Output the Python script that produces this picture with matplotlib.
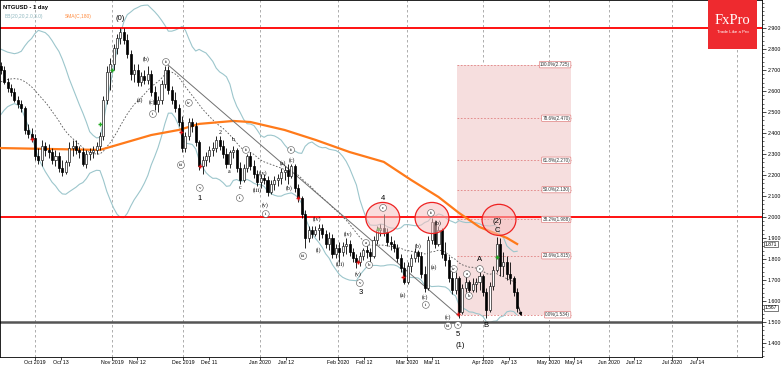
import matplotlib
matplotlib.use("Agg")
import matplotlib.pyplot as plt
from matplotlib.patches import Ellipse, Rectangle
import numpy as np
import pandas as pd

# daily candles NTGUSD, bar index 0 = 17 Sep 2019
opens = [2.719, 2.700, 2.643, 2.614, 2.595, 2.557, 2.538, 2.519, 2.414, 2.395,
         2.376, 2.290, 2.271, 2.338, 2.319, 2.309, 2.271, 2.290, 2.233, 2.214,
         2.262, 2.328, 2.338, 2.319, 2.309, 2.252, 2.300, 2.309, 2.319, 2.338,
         2.385, 2.557, 2.690, 2.728, 2.805, 2.852, 2.881, 2.843, 2.776, 2.681,
         2.700, 2.643, 2.671, 2.652, 2.681, 2.595, 2.538, 2.557, 2.633, 2.700,
         2.605, 2.557, 2.519, 2.452, 2.328, 2.385, 2.452, 2.433, 2.357, 2.243,
         2.271, 2.290, 2.319, 2.328, 2.367, 2.338, 2.300, 2.252, 2.309, 2.319,
         2.233, 2.176, 2.233, 2.290, 2.243, 2.205, 2.167, 2.186, 2.176, 2.119,
         2.157, 2.176, 2.186, 2.214, 2.224, 2.195, 2.243, 2.138, 2.090, 2.014,
         1.900, 1.938, 1.919, 1.938, 1.948, 1.919, 1.871, 1.900, 1.824, 1.852,
         1.833, 1.862, 1.871, 1.833, 1.805, 1.786, 1.814, 1.843, 1.833, 1.814,
         1.890, 1.938, 1.948, 1.928, 1.881, 1.871, 1.852, 1.805, 1.757, 1.690,
         1.767, 1.805, 1.833, 1.814, 1.728, 1.662, 1.890, 1.976, 1.871, 1.938,
         1.824, 1.795, 1.709, 1.652, 1.709, 1.547, 1.662, 1.690, 1.652, 1.681,
         1.690, 1.719, 1.643, 1.557, 1.671, 1.748, 1.871, 1.767, 1.786, 1.728,
         1.709, 1.643]
highs = [2.738, 2.719, 2.662, 2.633, 2.614, 2.576, 2.557, 2.528, 2.443, 2.424,
         2.395, 2.328, 2.367, 2.357, 2.347, 2.328, 2.319, 2.309, 2.271, 2.271,
         2.357, 2.367, 2.367, 2.338, 2.328, 2.319, 2.328, 2.338, 2.357, 2.405,
         2.576, 2.719, 2.757, 2.824, 2.871, 2.900, 2.900, 2.871, 2.795, 2.728,
         2.728, 2.690, 2.700, 2.719, 2.700, 2.624, 2.576, 2.652, 2.719, 2.719,
         2.624, 2.595, 2.538, 2.481, 2.405, 2.471, 2.471, 2.452, 2.367, 2.290,
         2.309, 2.338, 2.357, 2.385, 2.385, 2.367, 2.328, 2.319, 2.338, 2.328,
         2.262, 2.252, 2.300, 2.309, 2.271, 2.224, 2.205, 2.205, 2.195, 2.176,
         2.195, 2.205, 2.233, 2.243, 2.252, 2.252, 2.252, 2.157, 2.100, 2.033,
         1.957, 1.957, 1.957, 1.967, 1.967, 1.938, 1.928, 1.919, 1.871, 1.881,
         1.881, 1.900, 1.890, 1.852, 1.824, 1.833, 1.852, 1.866, 1.852, 1.909,
         1.957, 1.967, 2.014, 1.948, 1.909, 1.890, 1.871, 1.824, 1.786, 1.786,
         1.824, 1.852, 1.843, 1.833, 1.767, 1.909, 1.995, 1.986, 1.957, 1.948,
         1.881, 1.814, 1.748, 1.738, 1.719, 1.681, 1.719, 1.700, 1.709, 1.709,
         1.738, 1.728, 1.662, 1.690, 1.767, 1.905, 1.900, 1.833, 1.814, 1.786,
         1.719, 1.662]
lows = [2.681, 2.633, 2.595, 2.576, 2.548, 2.519, 2.500, 2.395, 2.376, 2.357,
        2.271, 2.252, 2.243, 2.290, 2.281, 2.252, 2.243, 2.214, 2.195, 2.205,
        2.243, 2.290, 2.300, 2.281, 2.243, 2.233, 2.271, 2.281, 2.300, 2.319,
        2.367, 2.538, 2.605, 2.700, 2.776, 2.824, 2.824, 2.757, 2.652, 2.643,
        2.624, 2.624, 2.633, 2.633, 2.576, 2.509, 2.500, 2.538, 2.614, 2.586,
        2.538, 2.500, 2.433, 2.309, 2.309, 2.367, 2.405, 2.338, 2.224, 2.205,
        2.243, 2.262, 2.290, 2.309, 2.319, 2.281, 2.233, 2.233, 2.281, 2.214,
        2.157, 2.167, 2.214, 2.224, 2.186, 2.148, 2.138, 2.157, 2.100, 2.109,
        2.128, 2.148, 2.157, 2.176, 2.157, 2.186, 2.119, 2.071, 1.995, 1.852,
        1.881, 1.900, 1.909, 1.890, 1.900, 1.852, 1.843, 1.805, 1.805, 1.786,
        1.814, 1.824, 1.814, 1.786, 1.757, 1.767, 1.795, 1.805, 1.786, 1.805,
        1.871, 1.909, 1.909, 1.862, 1.843, 1.833, 1.786, 1.738, 1.681, 1.681,
        1.738, 1.786, 1.786, 1.709, 1.643, 1.652, 1.871, 1.852, 1.862, 1.805,
        1.767, 1.690, 1.633, 1.633, 1.519, 1.538, 1.643, 1.633, 1.643, 1.643,
        1.652, 1.624, 1.519, 1.547, 1.652, 1.738, 1.719, 1.719, 1.700, 1.681,
        1.624, 1.547]
closes = [2.700, 2.643, 2.614, 2.595, 2.557, 2.538, 2.519, 2.414, 2.395, 2.376,
          2.290, 2.271, 2.338, 2.319, 2.309, 2.271, 2.290, 2.233, 2.214, 2.262,
          2.328, 2.338, 2.319, 2.309, 2.252, 2.300, 2.309, 2.319, 2.338, 2.385,
          2.557, 2.690, 2.728, 2.805, 2.852, 2.881, 2.843, 2.776, 2.681, 2.700,
          2.643, 2.671, 2.652, 2.681, 2.595, 2.538, 2.557, 2.633, 2.700, 2.605,
          2.557, 2.519, 2.452, 2.328, 2.385, 2.452, 2.433, 2.357, 2.243, 2.271,
          2.290, 2.319, 2.328, 2.367, 2.338, 2.300, 2.252, 2.309, 2.319, 2.233,
          2.176, 2.233, 2.290, 2.243, 2.205, 2.167, 2.186, 2.176, 2.119, 2.157,
          2.176, 2.186, 2.214, 2.224, 2.195, 2.243, 2.138, 2.090, 2.014, 1.900,
          1.938, 1.919, 1.938, 1.948, 1.919, 1.871, 1.900, 1.824, 1.852, 1.833,
          1.862, 1.871, 1.833, 1.805, 1.786, 1.814, 1.843, 1.833, 1.814, 1.890,
          1.938, 1.948, 1.928, 1.881, 1.871, 1.852, 1.805, 1.757, 1.690, 1.767,
          1.805, 1.833, 1.814, 1.728, 1.662, 1.890, 1.976, 1.871, 1.938, 1.824,
          1.795, 1.709, 1.652, 1.709, 1.547, 1.662, 1.690, 1.652, 1.681, 1.690,
          1.719, 1.643, 1.557, 1.671, 1.748, 1.871, 1.767, 1.786, 1.728, 1.709,
          1.643, 1.567]
# closes before the visible window, only used to warm up the bands
pre_closes = [2.50, 2.52, 2.55, 2.53, 2.57, 2.60, 2.58, 2.62, 2.65, 2.63,
              2.66, 2.70, 2.68, 2.72, 2.75, 2.73, 2.71, 2.74, 2.72]

# SMA(180)
sma_bar = [0, 29, 44, 52, 58, 68, 73, 83, 92, 102, 112, 120, 128, 134, 140, 148, 151]
sma_val = [2.328, 2.319, 2.390, 2.414, 2.443, 2.457, 2.452, 2.414, 2.367, 2.309,
           2.262, 2.176, 2.095, 2.019, 1.952, 1.900, 1.871]

# wave count labels: text, bar, price, circled
wave_txt = ["(b)", "(a)", "ii", "(c)", "i", "iv", "iii", "v", "2", "b", "a", "c", "i", "ii",
            "(iii)", "(iv)", "(v)", "i", "(a)", "ii", "(c)", "(b)", "iii", "(iv)", "(i)",
            "(iii)", "(iv)", "(v)", "v", "a", "b", "c", "(a)", "(b)", "(c)", "i", "ii",
            "(b)", "(a)", "iv", "(c)", "iii", "v", "a", "b", "c"]
wave_x = [42.5, 40.7, 48.3, 44.2, 44.5, 55.0, 52.7, 58.2, 64.1, 67.9, 66.7, 69.9, 69.9, 71.7,
          74.9, 76.7, 77.3, 77.5, 82.5, 84.9, 85.1, 84.3, 88.4, 92.5, 92.8,
          99.2, 101.5, 104.4, 105.0, 106.8, 107.7, 111.8, 117.6, 122.0, 124.0, 124.3, 125.8,
          127.8, 126.7, 132.5, 130.8, 130.8, 133.7, 136.3, 136.9, 140.1]
wave_y = [2.752, 2.557, 2.738, 2.547, 2.490, 2.543, 2.247, 2.138, 2.404, 2.367, 2.214, 2.138, 2.090, 2.319,
          2.128, 2.209, 2.057, 2.014, 2.257, 2.319, 2.271, 2.138, 1.814, 1.990, 1.843,
          1.776, 1.919, 1.728, 1.685, 1.876, 1.771, 2.043, 1.628, 1.862, 1.619, 1.581, 2.019,
          1.971, 1.762, 1.752, 1.524, 1.481, 1.485, 1.728, 1.624, 1.752]
wave_circ = [0, 0, 1, 0, 1, 1, 1, 1, 0, 0, 0, 0, 1, 1,
             0, 0, 0, 1, 0, 1, 0, 0, 1, 0, 0,
             0, 0, 0, 1, 1, 1, 1, 0, 0, 0, 1, 1,
             0, 0, 1, 0, 1, 1, 1, 1, 1]

big_txt = ["(0)", "1", "3", "4", "5", "(1)", "A", "B", "(2)", "C"]
big_x = [34.9, 58.2, 105.3, 111.8, 133.7, 134.3, 140.1, 141.9, 145.1, 145.1]
big_y = [2.947, 2.090, 1.638, 2.086, 1.438, 1.390, 1.795, 1.485, 1.976, 1.933]

red_x = [9.1, 52.7, 58.2, 86.9, 104.4, 117.6, 133.7]
red_y = [2.371, 2.405, 2.243, 2.090, 1.786, 1.714, 1.538]
green_x = [29.0, 32.5, 110.3, 145.1]
green_y = [2.443, 2.700, 1.943, 1.809]

# circled zones
zone_x = [111.7, 126.1, 145.7]
zone_y = [1.995, 1.995, 1.986]

fib_pct = ["100.0%", "78.6%", "61.8%", "50.0%", "38.2%", "23.6%", "0.0%"]
fib_val = [2.725, 2.470, 2.270, 2.130, 1.988, 1.815, 1.534]
fib_x0, fib_x1 = 133.4, 166.7

trend_x = [48.6, 133.7]
trend_y = [2.728, 1.533]

tick_lbl = ["Oct 2019", "Oct 13", "Nov 2019", "Nov 12", "Dec 2019", "Dec 11", "Jan 2020", "Jan 12",
            "Feb 2020", "Feb 12", "Mar 2020", "Mar 11", "Apr 2020", "Apr 13", "May 2020", "May 14",
            "Jun 2020", "Jun 12", "Jul 2020", "Jul 14"]
tick_pos = [10.0, 17.6, 32.5, 39.8, 53.3, 60.9, 75.8, 83.4, 98.6, 106.2, 118.8, 126.1,
            141.0, 148.6, 160.3, 167.6, 177.8, 185.1, 196.3, 203.6]
month_pos = [10.0, 32.5, 53.3, 75.8, 98.6, 118.8, 141.0, 160.3, 177.8, 196.3, 215.3]

plt.rcParams['font.family'] = ['Liberation Sans', 'DejaVu Sans']

fig = plt.figure(figsize=(7.82, 3.66), dpi=100)
ax = fig.add_axes([0.0, 0.0246, 0.9744, 0.9754])
ax.set_xlim(-0.23, 222.6)
ax.set_ylim(1.333, 3.033)

x = np.arange(len(closes))
o = np.array(opens); h = np.array(highs); l = np.array(lows); c = np.array(closes)

# grid
for m in month_pos:
    ax.axvline(m, color='#a0a0a0', ls=(0, (3, 3)), lw=0.6, zorder=0)

# fib box
ax.add_patch(Rectangle((fib_x0, fib_val[-1]), fib_x1 - fib_x0, fib_val[0] - fib_val[-1],
                       facecolor='#f6dede', edgecolor='none', zorder=0.5))
for p, v in zip(fib_pct, fib_val):
    ax.plot([fib_x0, fib_x1], [v, v], color='#e08080', ls=(0, (2, 2)), lw=0.6, zorder=0.6)
    ax.text(fib_x1 - 0.2, v, "%s(%.3f)" % (p, v), fontsize=3.3, ha='right', va='center',
            color='#333333', zorder=5,
            bbox=dict(boxstyle='round,pad=0.15', fc='white', ec='#e08080', lw=0.5))

# horizontal levels
ax.axhline(2.9, color='#ff1010', lw=1.4, zorder=2)
ax.axhline(2.0, color='#ff1010', lw=1.4, zorder=2)
ax.axhline(1.5, color='#555555', lw=1.8, zorder=2)

# bollinger bands (20, 2.0)
s = pd.Series(pre_closes + closes)
n_pre = len(pre_closes)
mid = s.rolling(20).mean().values[n_pre:]
sd = s.rolling(20).std(ddof=0).values[n_pre:]
ax.plot(x, mid + 2 * sd, color='#9cc6cc', lw=0.8, zorder=1)
ax.plot(x, mid - 2 * sd, color='#9cc6cc', lw=0.8, zorder=1)
ax.plot(x, mid, color='#555555', lw=0.6, ls=(0, (2, 2)), zorder=1)

# SMA
ax.plot(sma_bar, sma_val, color='#ff7a1a', lw=1.6, zorder=3)

# trend line
ax.plot(trend_x, trend_y, color='#707070', lw=0.7, zorder=3)

# candles
up = c >= o
ax.vlines(x, l, h, color='black', lw=0.6, zorder=4)
ax.bar(x[up], (c - o)[up], bottom=o[up], width=0.6, facecolor='white', edgecolor='#222222', lw=0.5, zorder=5)
ax.bar(x[~up], (o - c)[~up], bottom=c[~up], width=0.6, facecolor='black', edgecolor='black', lw=0.5, zorder=5)

ax.plot(red_x, red_y, '+', color='#dd1111', ms=3.5, mew=1.0, zorder=6)
ax.plot(green_x, green_y, '+', color='#22aa22', ms=3.5, mew=1.0, zorder=6)

# zones
for zx, zy in zip(zone_x, zone_y):
    ax.add_patch(Ellipse((zx, zy), 9.9, 0.148, facecolor='#f7c0c0', alpha=0.55, edgecolor='none', zorder=6))
    ax.add_patch(Ellipse((zx, zy), 9.9, 0.148, facecolor='none', edgecolor='#ee2222', lw=0.9, zorder=6))

# wave labels
for t, wx, wy, cc in zip(wave_txt, wave_x, wave_y, wave_circ):
    if cc:
        ax.text(wx, wy, t, fontsize=3.4, ha='center', va='center', family='Liberation Serif', zorder=7,
                bbox=dict(boxstyle='circle,pad=0.3', fc='white', ec='#555555', lw=0.4))
    else:
        ax.text(wx, wy, t, fontsize=4.2, ha='center', va='center', family='Liberation Serif', zorder=7)
for t, wx, wy in zip(big_txt, big_x, big_y):
    ax.text(wx, wy, t, fontsize=5.5, ha='center', va='center', zorder=7)

# arrow at the end
ax.annotate("", xy=(152.5, 1.515), xytext=(151.2, 1.585),
            arrowprops=dict(arrowstyle='-|>', color='black', lw=0.6, mutation_scale=5), zorder=7)

# axes styling
ax.yaxis.tick_right()
ax.set_yticks(np.arange(1.4, 2.95, 0.1))
ax.set_yticklabels(["%.3f" % v for v in np.arange(1.4, 2.95, 0.1)], fontsize=3.8)
ax.set_yticks(np.arange(1.34, 3.03, 0.02), minor=True)
ax.tick_params(axis='y', which='major', length=3, width=0.5, pad=1)
ax.tick_params(axis='y', which='minor', length=1.5, width=0.4)
ax.set_xticks(tick_pos)
ax.set_xticklabels(tick_lbl, fontsize=3.8)
ax.tick_params(axis='x', length=2, width=0.5, pad=0.5)
for sp in ax.spines.values():
    sp.set_linewidth(0.6)

# current values on the price scale
for v in [sma_val[-1], closes[-1]]:
    ax.annotate("%.3f" % v, xy=(1.0, v), xycoords=('axes fraction', 'data'), xytext=(2, 0),
                textcoords='offset points', fontsize=3.6, va='center', ha='left', annotation_clip=False,
                bbox=dict(boxstyle='square,pad=0.15', fc='white', ec='#444444', lw=0.5))

# header texts
ax.text(0.004, 0.985, "NTGUSD - 1 day", transform=ax.transAxes, fontsize=4.2, va='top', fontweight='bold')
ax.text(0.006, 0.96, "BB(20,20,2.0,3.0)", transform=ax.transAxes, fontsize=3.5, va='top', color='#8fb8c0')
ax.text(0.085, 0.96, "SMA(C,180)", transform=ax.transAxes, fontsize=3.5, va='top', color='#ff8c40')

# logo
fig.patches.append(Rectangle((708 / 782, 1 - 49 / 366), 49 / 782, 49 / 366, transform=fig.transFigure,
                             facecolor='#ee2a2f', edgecolor='none', zorder=10))
fig.text(732.5 / 782, 1 - 21 / 366, "FxPro", color='white', fontsize=10.5, family='Liberation Serif',
         ha='center', va='center', zorder=11)
fig.text(732.5 / 782, 1 - 32 / 366, "Trade Like a Pro", color='white', fontsize=3.2,
         ha='center', va='center', zorder=11)

fig.savefig("out.png", dpi=100)
